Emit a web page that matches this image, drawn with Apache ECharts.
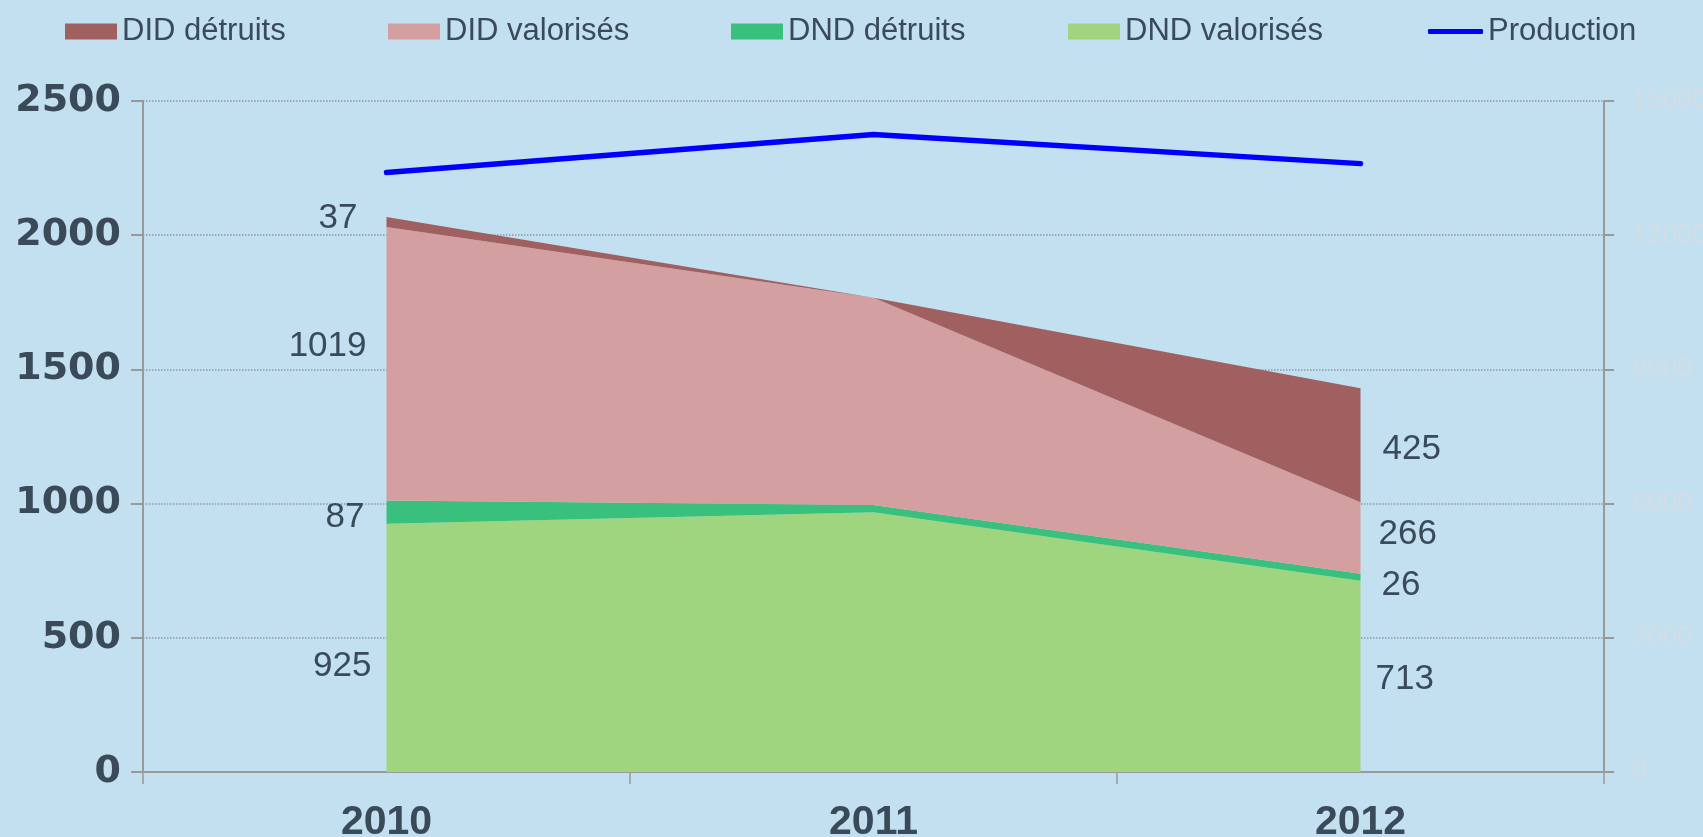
<!DOCTYPE html>
<html>
<head>
<meta charset="utf-8">
<script src="https://cdn.jsdelivr.net/npm/echarts@6/dist/echarts.min.js"></script>
<style>
  html, body { margin: 0; padding: 0; background: #c2e0f0; }
  #chart { width: 1703px; height: 837px; }
</style>
</head>
<body>
<div id="chart"></div>
<script>
// données
var years = ['2010', '2011', '2012'];
var dndValorises = [925, 968, 713];
var dndDetruits = [87, 27, 26];
var didValorises = [1019, 772, 266];
var didDetruits = [37, 0, 425];
var production = [13400, 14250, 13600];
var leftTicks = [0, 2500, 500];      // min, max, interval
var rightTicks = [0, 15000, 3000];

var txt = '#3a4a58';
var stackOrder = [
  { name: 'DND valorisés', data: dndValorises, color: '#a0d580' },
  { name: 'DND détruits', data: dndDetruits, color: '#38c07c' },
  { name: 'DID valorisés', data: didValorises, color: '#d49fa0' },
  { name: 'DID détruits', data: didDetruits, color: '#a06060' }
];
// décalages des étiquettes (2010 à gauche, 2012 à droite), en px
var labelShift = [
  [[5, 18], [-5, 3]],
  [[-2, 5], [1, 8]],
  [[0, -17], [-2, -4]],
  [[-9, -4], [2, 4]]
];

var series = [];
var base = [0, 0, 0];
stackOrder.forEach(function(s, k) {
  series.push({
    name: s.name,
    type: 'line',
    stack: 'total',
    symbol: 'none',
    lineStyle: { width: 0 },
    itemStyle: { color: s.color },
    areaStyle: { color: s.color, opacity: 1 },
    z: 2,
    data: s.data
  });
  var mids = base.map(function(b, i) { return b + s.data[i] / 2; });
  series.push({
    type: 'scatter',
    symbolSize: 0,
    silent: true,
    z: 5,
    itemStyle: { opacity: 1 },
    data: [
      { value: [0, mids[0]], label: { position: 'left', offset: labelShift[k][0] } },
      { value: [2, mids[2]], label: { position: 'right', offset: labelShift[k][1] } }
    ],
    label: {
      show: true,
      distance: 20,
      color: txt,
      opacity: 1,
      fontFamily: 'Liberation Sans, Arial',
      fontSize: 35,
      formatter: (function(arr) {
        return function(p) { return String(arr[p.value[0]]); };
      })(s.data)
    }
  });
  base = base.map(function(b, i) { return b + s.data[i]; });
});
series.push({
  name: 'Production',
  type: 'line',
  yAxisIndex: 1,
  symbol: 'none',
  itemStyle: { color: '#0000ff' },
  lineStyle: { color: '#0000ff', width: 5.5, cap: 'round' },
  z: 4,
  data: production
});

var legendLefts = [65, 388, 731, 1068, 1428];
var legendNames = ['DID détruits', 'DID valorisés', 'DND détruits', 'DND valorisés', 'Production'];
var legends = legendNames.map(function(n, i) {
  var isLine = n === 'Production';
  return {
    left: legendLefts[i],
    top: 16,
    padding: 0,
    itemWidth: isLine ? 55 : 52,
    itemHeight: isLine ? 5 : 16,
    itemGap: 5,
    icon: isLine ? 'roundRect' : 'rect',
    data: [n],
    selectedMode: false,
    textStyle: { color: txt, fontFamily: 'Liberation Sans, Arial', fontSize: 31 }
  };
});

var chart = echarts.init(document.getElementById('chart'));
chart.setOption({
  backgroundColor: '#c2e0f0',
  animation: false,
  legend: legends,
  grid: { left: 143, right: 99, top: 101, bottom: 65, outerBoundsMode: 'none', containLabel: false },
  xAxis: {
    type: 'category',
    data: years,
    boundaryGap: true,
    axisLine: { lineStyle: { color: '#999999', width: 2 } },
    axisTick: { show: true, length: 12, lineStyle: { color: '#999999', width: 1.5 } },
    axisLabel: { color: txt, fontFamily: 'Liberation Sans, Arial', fontWeight: 'bold', fontSize: 41, margin: 30 }
  },
  yAxis: [{
    type: 'value',
    min: leftTicks[0], max: leftTicks[1], interval: leftTicks[2],
    axisLine: { show: true, lineStyle: { color: '#999999', width: 2 } },
    axisTick: { show: true, length: 12, lineStyle: { color: '#999999', width: 2 } },
    axisLabel: { color: txt, fontFamily: 'DejaVu Sans', fontWeight: 'bold', fontSize: 38, margin: 22,
      formatter: function(v) { return String(v); } },
    splitLine: { show: true, lineStyle: { color: '#8e9aa3', type: 'dotted', width: 1.5 } }
  }, {
    type: 'value',
    position: 'right',
    min: rightTicks[0], max: rightTicks[1], interval: rightTicks[2],
    axisLine: { show: true, lineStyle: { color: '#999999', width: 2 } },
    axisTick: { show: true, length: 10, lineStyle: { color: '#999999', width: 2 } },
    axisLabel: { color: '#d3dde3', fontFamily: 'Liberation Sans, Arial', fontSize: 27, margin: 28,
      formatter: function(v) { return String(v); } },
    splitLine: { show: false }
  }],
  series: series
});
</script>
</body>
</html>
